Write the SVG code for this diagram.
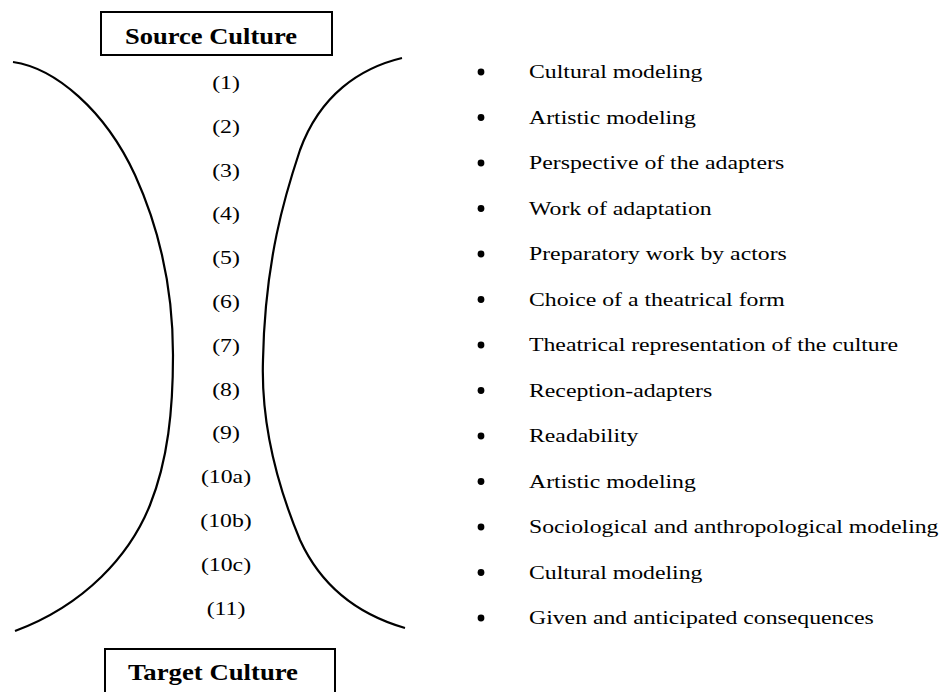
<svg xmlns="http://www.w3.org/2000/svg" width="942" height="692" viewBox="0 0 942 692">
<style>
.box{fill:#fff;stroke:#000;stroke-width:2}
.title{font-family:"Liberation Serif","Times New Roman",serif;font-weight:bold;font-size:23px;fill:#000}
.num{font-family:"Liberation Serif","Times New Roman",serif;font-size:19px;fill:#000;text-anchor:middle}
.item{font-family:"Liberation Serif","Times New Roman",serif;font-size:19px;fill:#000}
.curve{fill:none;stroke:#000;stroke-width:2.2}
.dot{fill:#000}
</style>
<rect width="942" height="692" fill="#fff"/>
<g id="connectors">
<path class="curve" d="M13,62 C55,68 105,110 135,175 C160,230 173,290 173,355 C173,410 168,460 150,505 C130,555 85,605 15,631"/>
<path class="curve" d="M402,58 C360,68 320,95 300,150 C285,195 265,260 263,360 C261,420 275,480 300,540 C322,588 360,615 405,628"/>
</g>
<g id="source-culture">
<rect class="box" x="101" y="12" width="231" height="43"/>
<text class="title" x="125" y="44" textLength="172" lengthAdjust="spacingAndGlyphs">Source Culture</text>
</g>
<g id="target-culture">
<rect class="box" x="105" y="649" width="230" height="60"/>
<text class="title" x="128" y="680" textLength="170" lengthAdjust="spacingAndGlyphs">Target Culture</text>
</g>
<g id="numbers">
<text class="num" transform="translate(226 89) scale(1.25 1)">(1)</text>
<text class="num" transform="translate(226 132.8) scale(1.25 1)">(2)</text>
<text class="num" transform="translate(226 176.6) scale(1.25 1)">(3)</text>
<text class="num" transform="translate(226 220.4) scale(1.25 1)">(4)</text>
<text class="num" transform="translate(226 264.2) scale(1.25 1)">(5)</text>
<text class="num" transform="translate(226 308) scale(1.25 1)">(6)</text>
<text class="num" transform="translate(226 351.8) scale(1.25 1)">(7)</text>
<text class="num" transform="translate(226 395.6) scale(1.25 1)">(8)</text>
<text class="num" transform="translate(226 439.4) scale(1.25 1)">(9)</text>
<text class="num" transform="translate(226 483.2) scale(1.25 1)">(10a)</text>
<text class="num" transform="translate(226 527) scale(1.25 1)">(10b)</text>
<text class="num" transform="translate(226 570.8) scale(1.25 1)">(10c)</text>
<text class="num" transform="translate(226 614.6) scale(1.25 1)">(11)</text>
</g>
<g id="item-1"><circle class="dot" cx="481" cy="72" r="3.4"/><text class="item" transform="translate(529 78) scale(1.25 1)">Cultural modeling</text></g>
<g id="item-2"><circle class="dot" cx="481" cy="117.5" r="3.4"/><text class="item" transform="translate(529 123.5) scale(1.25 1)">Artistic modeling</text></g>
<g id="item-3"><circle class="dot" cx="481" cy="163" r="3.4"/><text class="item" transform="translate(529 169) scale(1.25 1)">Perspective of the adapters</text></g>
<g id="item-4"><circle class="dot" cx="481" cy="208.5" r="3.4"/><text class="item" transform="translate(529 214.5) scale(1.25 1)">Work of adaptation</text></g>
<g id="item-5"><circle class="dot" cx="481" cy="254" r="3.4"/><text class="item" transform="translate(529 260) scale(1.25 1)">Preparatory work by actors</text></g>
<g id="item-6"><circle class="dot" cx="481" cy="299.5" r="3.4"/><text class="item" transform="translate(529 305.5) scale(1.25 1)">Choice of a theatrical form</text></g>
<g id="item-7"><circle class="dot" cx="481" cy="345" r="3.4"/><text class="item" transform="translate(529 351) scale(1.25 1)">Theatrical representation of the culture</text></g>
<g id="item-8"><circle class="dot" cx="481" cy="390.5" r="3.4"/><text class="item" transform="translate(529 396.5) scale(1.25 1)">Reception-adapters</text></g>
<g id="item-9"><circle class="dot" cx="481" cy="436" r="3.4"/><text class="item" transform="translate(529 442) scale(1.25 1)">Readability</text></g>
<g id="item-10a"><circle class="dot" cx="481" cy="481.5" r="3.4"/><text class="item" transform="translate(529 487.5) scale(1.25 1)">Artistic modeling</text></g>
<g id="item-10b"><circle class="dot" cx="481" cy="527" r="3.4"/><text class="item" transform="translate(529 533) scale(1.25 1)">Sociological and anthropological modeling</text></g>
<g id="item-10c"><circle class="dot" cx="481" cy="572.5" r="3.4"/><text class="item" transform="translate(529 578.5) scale(1.25 1)">Cultural modeling</text></g>
<g id="item-11"><circle class="dot" cx="481" cy="618" r="3.4"/><text class="item" transform="translate(529 624) scale(1.25 1)">Given and anticipated consequences</text></g>
</svg>
